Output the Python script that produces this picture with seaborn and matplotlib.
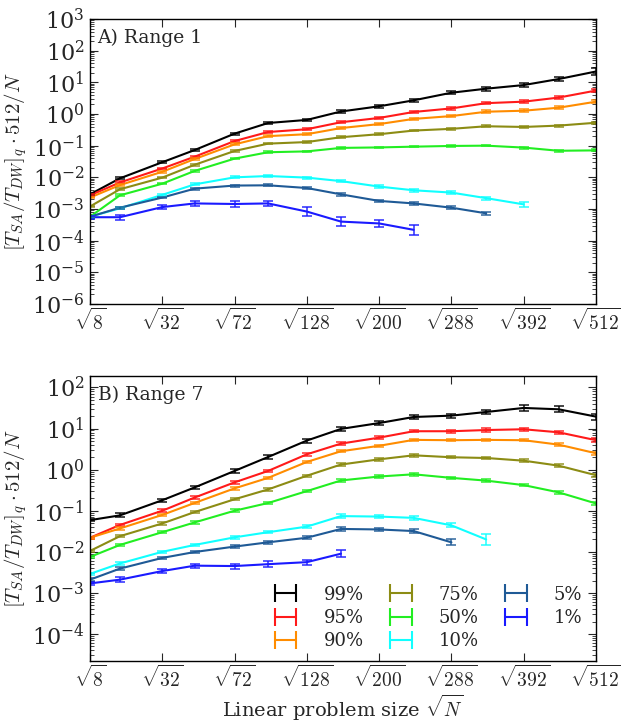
import numpy as np
import pandas as pd
import matplotlib
matplotlib.use("Agg")
import matplotlib.pyplot as plt
import seaborn as sns
from matplotlib.ticker import LogLocator, NullLocator

# ---------------- data ----------------
N_SIZES = [8, 16, 32, 48, 72, 96, 128, 160, 200, 240, 288, 336, 392, 448, 512]
X_TICK_N = [8, 32, 72, 128, 200, 288, 392, 512]
QUANTILES = ["99%", "95%", "90%", "75%", "50%", "10%", "5%", "1%"]
COLORS = ["#000000", "#ff1a1a", "#ff8c00", "#8c8c14", "#22ee22", "#11ffff", "#1f5a96", "#1a1aff"]

# Panel A (Range 1)
A_99 = [2.9e-3, 9.3e-3, 0.030, 0.073, 0.24, 0.52, 0.65, 1.2, 1.75, 2.7, 4.7, 6.3, 8.2, 12.7, 22.0]
A_95 = [2.7e-3, 6.9e-3, 0.019, 0.045, 0.14, 0.27, 0.33, 0.55, 0.75, 1.16, 1.5, 2.2, 2.45, 3.3, 5.5]
A_90 = [2.3e-3, 5.7e-3, 0.015, 0.038, 0.11, 0.20, 0.23, 0.36, 0.48, 0.70, 0.86, 1.18, 1.27, 1.58, 2.45]
A_75 = [1.2e-3, 4.2e-3, 9.8e-3, 0.025, 0.068, 0.116, 0.13, 0.185, 0.23, 0.30, 0.34, 0.41, 0.39, 0.43, 0.53]
A_50 = [5.7e-4, 2.7e-3, 6.3e-3, 0.016, 0.039, 0.062, 0.066, 0.085, 0.088, 0.093, 0.098, 0.10, 0.087, 0.069, 0.071]
A_10 = [5.7e-4, 1.05e-3, 2.8e-3, 6.0e-3, 0.010, 0.011, 9.8e-3, 7.6e-3, 5.1e-3, 3.9e-3, 3.3e-3, 2.2e-3, 1.4e-3]
A_5 = [5.7e-4, 1.1e-3, 2.3e-3, 4.4e-3, 5.5e-3, 5.6e-3, 4.6e-3, 2.9e-3, 1.8e-3, 1.5e-3, 1.1e-3, 7.3e-4]
A_1 = [5.5e-4, 5.5e-4, 1.15e-3, 1.5e-3, 1.44e-3, 1.5e-3, 8.3e-4, 4.0e-4, 3.5e-4, 2.2e-4]

# error half-widths (decades)
A_99_ERR = [0.03, 0.03, 0.03, 0.03, 0.03, 0.04, 0.04, 0.05, 0.05, 0.04, 0.05, 0.06, 0.06, 0.07, 0.10]
A_95_ERR = [0.03, 0.03, 0.03, 0.03, 0.03, 0.03, 0.03, 0.03, 0.04, 0.04, 0.04, 0.04, 0.04, 0.05, 0.05]
A_90_ERR = [0.03, 0.03, 0.03, 0.03, 0.03, 0.03, 0.03, 0.03, 0.03, 0.03, 0.03, 0.04, 0.04, 0.04, 0.05]
A_75_ERR = [0.03, 0.03, 0.025, 0.025, 0.025, 0.025, 0.025, 0.025, 0.025, 0.025, 0.025, 0.025, 0.03, 0.03, 0.03]
A_50_ERR = [0.03, 0.03, 0.025, 0.025, 0.025, 0.025, 0.025, 0.025, 0.025, 0.025, 0.025, 0.025, 0.03, 0.03, 0.03]
A_10_ERR = [0.03, 0.03, 0.03, 0.03, 0.03, 0.03, 0.03, 0.04, 0.04, 0.04, 0.04, 0.05, 0.07]
A_5_ERR = [0.03, 0.03, 0.03, 0.03, 0.03, 0.03, 0.04, 0.04, 0.04, 0.04, 0.04, 0.05]
A_1_ERR = [0.05, 0.08, 0.05, 0.07, 0.08, 0.08, 0.14, 0.14, 0.11, 0.16]

# Panel B (Range 7)
B_99 = [0.059, 0.077, 0.18, 0.37, 0.93, 2.03, 5.1, 9.8, 13.6, 19.1, 20.6, 25.3, 31.7, 29.4, 19.5]
B_95 = [0.022, 0.045, 0.10, 0.21, 0.49, 0.93, 2.36, 4.3, 6.0, 8.6, 8.6, 9.2, 9.6, 8.1, 5.2]
B_90 = [0.022, 0.037, 0.079, 0.155, 0.35, 0.63, 1.54, 2.8, 3.8, 5.3, 5.2, 5.3, 5.2, 4.06, 2.5]
B_75 = [0.0105, 0.024, 0.049, 0.093, 0.19, 0.33, 0.71, 1.33, 1.78, 2.23, 2.0, 1.92, 1.65, 1.25, 0.73]
B_50 = [0.0075, 0.0147, 0.030, 0.052, 0.10, 0.154, 0.30, 0.545, 0.68, 0.77, 0.63, 0.54, 0.42, 0.28, 0.15]
B_10 = [2.9e-3, 5.2e-3, 0.010, 0.0147, 0.0225, 0.030, 0.041, 0.074, 0.072, 0.067, 0.044, 0.020]
B_5 = [2.1e-3, 3.9e-3, 7.1e-3, 9.9e-3, 0.0134, 0.017, 0.022, 0.036, 0.035, 0.032, 0.017]
B_1 = [1.7e-3, 2.1e-3, 3.4e-3, 4.6e-3, 4.5e-3, 5.0e-3, 5.6e-3, 9.0e-3]

B_99_ERR = [0.03, 0.05, 0.04, 0.04, 0.04, 0.05, 0.05, 0.04, 0.04, 0.04, 0.05, 0.05, 0.08, 0.07, 0.07]
B_95_ERR = [0.03, 0.03, 0.03, 0.03, 0.03, 0.03, 0.04, 0.03, 0.03, 0.03, 0.04, 0.04, 0.04, 0.04, 0.05]
B_90_ERR = [0.03, 0.03, 0.03, 0.03, 0.03, 0.03, 0.03, 0.03, 0.03, 0.03, 0.03, 0.03, 0.03, 0.04, 0.04]
B_75_ERR = [0.03, 0.03, 0.03, 0.03, 0.03, 0.03, 0.03, 0.03, 0.03, 0.03, 0.03, 0.03, 0.03, 0.03, 0.04]
B_50_ERR = [0.03, 0.03, 0.03, 0.03, 0.03, 0.03, 0.03, 0.03, 0.03, 0.03, 0.03, 0.03, 0.03, 0.04, 0.04]
B_10_ERR = [0.03, 0.03, 0.03, 0.03, 0.03, 0.03, 0.04, 0.04, 0.04, 0.04, 0.05, 0.14]
B_5_ERR = [0.03, 0.03, 0.03, 0.03, 0.03, 0.04, 0.04, 0.04, 0.04, 0.04, 0.07]
B_1_ERR = [0.03, 0.06, 0.04, 0.05, 0.06, 0.07, 0.06, 0.08]

PANEL_A = [A_99, A_95, A_90, A_75, A_50, A_10, A_5, A_1]
PANEL_A_ERR = [A_99_ERR, A_95_ERR, A_90_ERR, A_75_ERR, A_50_ERR, A_10_ERR, A_5_ERR, A_1_ERR]
PANEL_B = [B_99, B_95, B_90, B_75, B_50, B_10, B_5, B_1]
PANEL_B_ERR = [B_99_ERR, B_95_ERR, B_90_ERR, B_75_ERR, B_50_ERR, B_10_ERR, B_5_ERR, B_1_ERR]

# ---------------- style ----------------
sns.set_style("ticks")
plt.rcParams.update({
    "font.family": ["DejaVu Serif"],
    "mathtext.fontset": "cm",
    "axes.linewidth": 1.0,
    "xtick.direction": "in",
    "ytick.direction": "in",
    "xtick.top": True,
    "ytick.right": True,
    "xtick.major.size": 6,
    "ytick.major.size": 6,
    "xtick.minor.size": 3,
    "ytick.minor.size": 3,
    "xtick.labelsize": 14,
    "ytick.labelsize": 16,
})

palette = dict(zip(QUANTILES, COLORS))
x_all = np.sqrt(np.array(N_SIZES, dtype=float))

fig = plt.figure(figsize=(6.21, 7.21), dpi=100)
W, H = 621.0, 721.0
axA = fig.add_axes([90 / W, (H - 304) / H, 506 / W, 285 / H])
axB = fig.add_axes([90 / W, (H - 661) / H, 506 / W, 285 / H])


def draw_panel(ax, series, errs, ylim, title):
    rows = []
    for q, vals in zip(QUANTILES, series):
        for xv, yv in zip(x_all[:len(vals)], vals):
            rows.append({"x": xv, "value": yv, "quantile": q})
    df = pd.DataFrame(rows)
    sns.lineplot(data=df, x="x", y="value", hue="quantile", hue_order=QUANTILES,
                 palette=palette, estimator=None, sort=False, legend=False,
                 linewidth=1.5, ax=ax)
    for q, vals, err in zip(QUANTILES, series, errs):
        v = np.array(vals)
        e = np.array(err)
        lo = v - v / 10 ** e
        hi = v * 10 ** e - v
        ax.errorbar(x_all[:len(v)], v, yerr=[lo, hi], fmt="none", ecolor=palette[q],
                    elinewidth=1.2, capsize=3.5, capthick=1.2, alpha=0.85)
    ax.set_yscale("log")
    ax.set_ylim(*ylim)
    ax.set_xlim(np.sqrt(8), np.sqrt(512))
    ax.set_xticks(np.sqrt(X_TICK_N))
    ax.set_xticklabels([r"$\sqrt{%d}$" % n for n in X_TICK_N])
    ax.xaxis.set_minor_locator(NullLocator())
    ax.yaxis.set_major_locator(LogLocator(base=10, numticks=20))
    ax.yaxis.set_minor_locator(LogLocator(base=10, subs=np.arange(2, 10), numticks=20))
    ax.tick_params(which="both", direction="in", top=True, right=True)
    ax.tick_params(axis="x", pad=3)
    ax.tick_params(axis="y", pad=4)
    ax.set_ylabel(r"$[T_{SA}/T_{DW}]_q\cdot 512/N$", fontsize=15, labelpad=2)
    ax.set_xlabel("")
    ax.text(0.015, 0.965, title, transform=ax.transAxes, va="top", ha="left", fontsize=13.5)
    for s in ax.spines.values():
        s.set_visible(True)
        s.set_color("black")


draw_panel(axA, PANEL_A, PANEL_A_ERR, (1e-6, 1e3), "A) Range 1")
draw_panel(axB, PANEL_B, PANEL_B_ERR, (2.2e-5, 1.9e2), "B) Range 7")
axB.set_xlabel(r"Linear problem size $\sqrt{N}$", fontsize=14, labelpad=1)

# legend proxies (errorbar style)
handles = []
for q in QUANTILES:
    h = axB.errorbar([], [], yerr=[], color=palette[q], lw=1.5, elinewidth=1.5,
                     capsize=4, capthick=1.5, label=q)
    handles.append(h)
axB.legend(handles, QUANTILES, ncol=3, numpoints=2, frameon=False,
           loc="lower right", bbox_to_anchor=(1.005, -0.02), fontsize=13,
           handlelength=1.8, columnspacing=1.15, handletextpad=1.2,
           labelspacing=0.3)

fig.savefig("out.png", dpi=100)
